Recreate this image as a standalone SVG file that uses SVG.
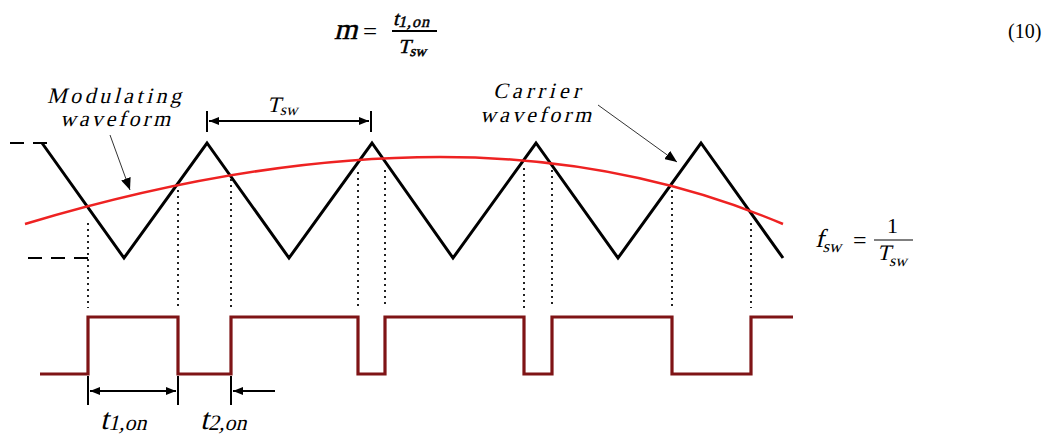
<svg xmlns="http://www.w3.org/2000/svg" width="1059" height="435" viewBox="0 0 1059 435">
<style>
.ser{font-family:"Liberation Serif","Times New Roman",serif;fill:#000;font-style:normal}
.tri{fill:none;stroke:#000;stroke-width:3;stroke-linejoin:miter}
.mod{fill:none;stroke:#ee2222;stroke-width:2.5}
.pwm{fill:none;stroke:#7f1416;stroke-width:3.2;stroke-linejoin:miter}
.dot{stroke:#222;stroke-width:2;stroke-dasharray:2 4}
.dash{stroke:#000;stroke-width:2;stroke-dasharray:14 9}
.thin{stroke:#000;stroke-width:2}
.lead{stroke:#333;stroke-width:1}
.heavy{stroke:#000;stroke-width:0.5}
</style>
<defs>
<marker id="ah" markerWidth="10" markerHeight="8" refX="10" refY="4" orient="auto-start-reverse" markerUnits="userSpaceOnUse">
<path d="M0,0 L10,4 L0,8 z" fill="#000"/>
</marker>
<marker id="ah2" markerWidth="12" markerHeight="10" refX="12" refY="5" orient="auto" markerUnits="userSpaceOnUse">
<path d="M0,0 L12,5 L0,10 z" fill="#000"/>
</marker>
</defs>
<rect width="1059" height="435" fill="#fff"/>

<g id="equation">
<text class="ser heavy" transform="translate(334,39) skewX(-14)" font-size="30">m</text>
<text class="ser" x="363" y="40" font-size="25">=</text>
<text class="ser heavy" transform="translate(393,25) skewX(-14)" font-size="20">t<tspan font-size="16" dy="2" letter-spacing="1">1,on</tspan></text>
<line x1="392" y1="31" x2="437" y2="31" stroke="#000" stroke-width="1.8"/>
<text class="ser heavy" transform="translate(398,53) skewX(-14)" font-size="20">T<tspan font-size="15" dy="3">sw</tspan></text>
<text class="ser" x="1008" y="38" font-size="20">(10)</text>
</g>

<g id="levels">
<line class="dash" x1="10" y1="143" x2="52" y2="143"/>
<line class="dash" x1="28" y1="258" x2="88" y2="258"/>
</g>

<g id="carrier">
<path class="tri" d="M42,143 L124,258 L207,143 L289,258 L372,143 L453,258 L536,143 L618,258 L701,143 L783,258"/>
</g>

<g id="modulating">
<path class="mod" d="M25,224 C163,182.6 302,157 440,157 C554,157 669,176 783,224"/>
</g>

<g id="projections">
<line class="dot" x1="88" y1="223" x2="88" y2="308"/>
<line class="dot" x1="178" y1="190" x2="178" y2="308"/>
<line class="dot" x1="231" y1="179" x2="231" y2="308"/>
<line class="dot" x1="358" y1="172" x2="358" y2="308"/>
<line class="dot" x1="385" y1="170" x2="385" y2="308"/>
<line class="dot" x1="524" y1="168" x2="524" y2="308"/>
<line class="dot" x1="552" y1="170" x2="552" y2="308"/>
<line class="dot" x1="672" y1="190" x2="672" y2="308"/>
<line class="dot" x1="751" y1="223" x2="751" y2="308"/>
</g>

<g id="pwm">
<path class="pwm" d="M40,374 L88,374 L88,317 L178,317 L178,374 L231,374 L231,317 L358,317 L358,374 L385,374 L385,317 L524,317 L524,374 L552,374 L552,317 L672,317 L672,374 L751,374 L751,317 L793,317"/>
</g>

<g id="connectors">
<line class="thin" x1="207" y1="111" x2="207" y2="132"/>
<line class="thin" x1="371" y1="111" x2="371" y2="132"/>
<line class="thin" x1="209" y1="121" x2="369" y2="121" marker-start="url(#ah)" marker-end="url(#ah)"/>
<line class="thin" x1="88" y1="376" x2="88" y2="405"/>
<line class="thin" x1="178" y1="376" x2="178" y2="405"/>
<line class="thin" x1="231" y1="376" x2="231" y2="405"/>
<line class="thin" x1="90" y1="391" x2="176" y2="391" marker-start="url(#ah)" marker-end="url(#ah)"/>
<line class="thin" x1="275" y1="391" x2="233" y2="391" marker-end="url(#ah)"/>
<line class="lead" x1="110" y1="135" x2="130" y2="190" marker-end="url(#ah2)"/>
<line class="lead" x1="598" y1="105" x2="677" y2="162" marker-end="url(#ah2)"/>
</g>

<g id="label-modulating">
<text class="ser" transform="translate(47,103) skewX(-14)" font-size="22" textLength="134" lengthAdjust="spacing">Modulating</text>
<text class="ser" transform="translate(60,126) skewX(-14)" font-size="22" textLength="110" lengthAdjust="spacing">waveform</text>
</g>

<g id="label-carrier">
<text class="ser" transform="translate(493,98) skewX(-14)" font-size="22" textLength="87" lengthAdjust="spacing">Carrier</text>
<text class="ser" transform="translate(480,122) skewX(-14)" font-size="22" textLength="111" lengthAdjust="spacing">waveform</text>
</g>

<g id="label-tsw">
<text class="ser" transform="translate(267,112) skewX(-14)" font-size="22">T<tspan font-size="16" dy="3">sw</tspan></text>
</g>

<g id="label-fsw">
<text class="ser" transform="translate(815,247) skewX(-14)" font-size="26">f<tspan font-size="17" dy="5">sw</tspan></text>
<text class="ser" x="853" y="248" font-size="24">=</text>
<line x1="874" y1="240" x2="913" y2="240" stroke="#000" stroke-width="1"/>
<text class="ser" x="887" y="233" font-size="22">1</text>
<text class="ser" transform="translate(877,260) skewX(-14)" font-size="22">T<tspan font-size="16" dy="6">sw</tspan></text>
</g>

<g id="label-t1on">
<text class="ser" transform="translate(100,429) skewX(-14)" font-size="30">t<tspan font-size="22" dy="1">1,on</tspan></text>
</g>
<g id="label-t2on">
<text class="ser" transform="translate(200,429) skewX(-14)" font-size="30">t<tspan font-size="22" dy="1">2,on</tspan></text>
</g>
</svg>
